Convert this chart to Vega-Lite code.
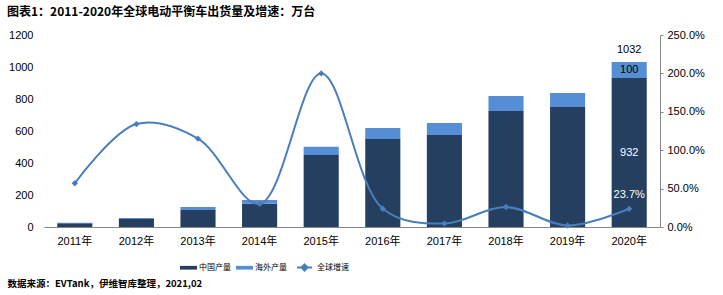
{
  "$schema": "https://vega.github.io/schema/vega-lite/v6.json",
  "width": 616,
  "height": 192,
  "autosize": {"type": "none"},
  "padding": {"left": 44, "top": 35, "right": 63, "bottom": 68},
  "background": "white",
  "config": {
    "view": {"stroke": null},
    "font": "Liberation Sans, Noto Sans CJK SC",
    "axis": {"labelFont": "Liberation Sans, Noto Sans CJK SC", "labelFontSize": 11, "labelColor": "#000", "grid": false, "titleColor": "#000", "labelOverlap": false},
    "legend": {"labelFont": "Noto Sans CJK SC", "labelFontSize": 8, "labelColor": "#000", "padding": 0, "offset": 0}
  },
  "title": {
    "text": "图表1：2011-2020年全球电动平衡车出货量及增速：万台",
    "anchor": "start",
    "frame": "group",
    "dx": -37,
    "offset": 10,
    "font": "Noto Sans CJK SC",
    "fontSize": 12,
    "fontWeight": "bold",
    "color": "#000"
  },
  "datasets": {
    "output": [
      {"year": "2011年", "series": "中国产量", "value": 24},
      {"year": "2011年", "series": "海外产量", "value": 2},
      {"year": "2012年", "series": "中国产量", "value": 50},
      {"year": "2012年", "series": "海外产量", "value": 6},
      {"year": "2013年", "series": "中国产量", "value": 106},
      {"year": "2013年", "series": "海外产量", "value": 19},
      {"year": "2014年", "series": "中国产量", "value": 146},
      {"year": "2014年", "series": "海外产量", "value": 23},
      {"year": "2015年", "series": "中国产量", "value": 450},
      {"year": "2015年", "series": "海外产量", "value": 52},
      {"year": "2016年", "series": "中国产量", "value": 550},
      {"year": "2016年", "series": "海外产量", "value": 69},
      {"year": "2017年", "series": "中国产量", "value": 575},
      {"year": "2017年", "series": "海外产量", "value": 75},
      {"year": "2018年", "series": "中国产量", "value": 725},
      {"year": "2018年", "series": "海外产量", "value": 94},
      {"year": "2019年", "series": "中国产量", "value": 750},
      {"year": "2019年", "series": "海外产量", "value": 88},
      {"year": "2020年", "series": "中国产量", "value": 932},
      {"year": "2020年", "series": "海外产量", "value": 100}
    ],
    "growth": [
      {"year": "2011年", "growth": 0.57},
      {"year": "2012年", "growth": 1.34},
      {"year": "2013年", "growth": 1.15},
      {"year": "2014年", "growth": 0.30},
      {"year": "2015年", "growth": 2.00},
      {"year": "2016年", "growth": 0.238},
      {"year": "2017年", "growth": 0.045},
      {"year": "2018年", "growth": 0.26},
      {"year": "2019年", "growth": 0.02},
      {"year": "2020年", "growth": 0.237}
    ]
  },
  "layer": [
    {
      "data": {"name": "output"},
      "layer": [
        {
          "mark": {"type": "bar"},
          "encoding": {
            "x": {
              "field": "year", "type": "ordinal",
              "scale": {"paddingInner": 0.43, "paddingOuter": 0.215},
              "axis": {
                "labelAngle": 0, "ticks": false, "domainColor": "#868686", "labelPadding": 8,
                "title": "数据来源：EVTank，伊维智库整理，2021,02",
                "titleFont": "Noto Sans CJK SC", "titleFontSize": 9.5, "titleFontWeight": "bold",
                "titleAlign": "left", "titleBaseline": "middle", "titleX": -37, "titleY": 56
              }
            },
            "y": {
              "field": "value", "type": "quantitative", "aggregate": "sum", "stack": "zero",
              "scale": {"domain": [0, 1200], "nice": false},
              "axis": {"title": null, "format": "d", "values": [0, 200, 400, 600, 800, 1000, 1200], "labelOverlap": false, "domain": false, "ticks": false, "labelPadding": 11}
            },
            "color": {
              "field": "series", "type": "nominal",
              "scale": {"domain": ["中国产量", "海外产量"], "range": ["#243F60", "#558ED5"]},
              "legend": {
                "title": null, "orient": "none", "legendX": 136, "legendY": 224, "direction": "horizontal",
                "symbolType": "M-1,-0.22H1V0.22H-1Z", "symbolSize": 289, "symbolStrokeWidth": 0,
                "labelOffset": 2, "columnPadding": 5
              }
            },
            "order": {"field": "series", "sort": "ascending"}
          }
        },
        {
          "transform": [{"filter": "datum.year === '2020年'"}],
          "mark": {"type": "text", "dy": -12, "fontSize": 11, "color": "#000"},
          "encoding": {
            "x": {"field": "year", "type": "ordinal"},
            "y": {"field": "value", "type": "quantitative", "aggregate": "sum",
              "axis": {"title": null, "format": "d", "values": [0, 200, 400, 600, 800, 1000, 1200], "labelOverlap": false, "domain": false, "ticks": false, "labelPadding": 11}},
            "text": {"field": "value", "type": "quantitative", "aggregate": "sum"}
          }
        },
        {
          "transform": [
            {"stack": "value", "groupby": ["year"], "sort": [{"field": "series", "order": "ascending"}], "as": ["v0", "v1"]},
            {"filter": "datum.year === '2020年' && datum.series === '海外产量'"}
          ],
          "mark": {"type": "text", "dy": 8, "fontSize": 11, "color": "#000"},
          "encoding": {
            "x": {"field": "year", "type": "ordinal"},
            "y": {"field": "v1", "type": "quantitative",
              "axis": {"title": null, "format": "d", "values": [0, 200, 400, 600, 800, 1000, 1200], "labelOverlap": false, "domain": false, "ticks": false, "labelPadding": 11}},
            "text": {"field": "value", "type": "quantitative"}
          }
        },
        {
          "transform": [{"filter": "datum.year === '2020年' && datum.series === '中国产量'"}],
          "mark": {"type": "text", "dy": 75, "fontSize": 11, "color": "#FFFFFF"},
          "encoding": {
            "x": {"field": "year", "type": "ordinal"},
            "y": {"field": "value", "type": "quantitative",
              "axis": {"title": null, "format": "d", "values": [0, 200, 400, 600, 800, 1000, 1200], "labelOverlap": false, "domain": false, "ticks": false, "labelPadding": 11}},
            "text": {"field": "value", "type": "quantitative"}
          }
        }
      ]
    },
    {
      "data": {"name": "growth"},
      "layer": [
        {
          "mark": {
            "type": "line", "interpolate": "catmull-rom", "strokeWidth": 2,
            "point": {"shape": "diamond", "size": 40, "filled": true, "color": "#4A7EBB"}
          },
          "encoding": {
            "x": {"field": "year", "type": "ordinal"},
            "y": {
              "field": "growth", "type": "quantitative",
              "scale": {"domain": [0, 2.5], "nice": false},
              "axis": {
                "orient": "right", "title": null, "format": ".1%",
                "values": [0, 0.5, 1, 1.5, 2, 2.5], "labelOverlap": false,
                "domainColor": "#868686", "tickColor": "#868686", "tickSize": 3, "labelPadding": 4
              }
            },
            "color": {
              "datum": "全球增速",
              "scale": {"range": ["#4A7EBB"]},
              "legend": {
                "title": null, "orient": "none", "legendX": 252, "legendY": 224,
                "symbolType": "M-1,0H1M0,-0.4L0.4,0L0,0.4L-0.4,0Z", "symbolSize": 225,
                "symbolStrokeWidth": 2, "symbolFillColor": "#4A7EBB", "symbolStrokeColor": "#4A7EBB",
                "labelOffset": 4
              }
            }
          }
        },
        {
          "transform": [{"filter": "datum.year === '2020年'"}],
          "mark": {"type": "text", "dy": -14, "fontSize": 11, "color": "#FFFFFF"},
          "encoding": {
            "x": {"field": "year", "type": "ordinal"},
            "y": {"field": "growth", "type": "quantitative",
              "axis": {
                "orient": "right", "title": null, "format": ".1%",
                "values": [0, 0.5, 1, 1.5, 2, 2.5], "labelOverlap": false,
                "domainColor": "#868686", "tickColor": "#868686", "tickSize": 3, "labelPadding": 4
              }},
            "text": {"field": "growth", "type": "quantitative", "format": ".1%"}
          }
        }
      ]
    }
  ],
  "resolve": {"scale": {"y": "independent", "color": "independent"}}
}
